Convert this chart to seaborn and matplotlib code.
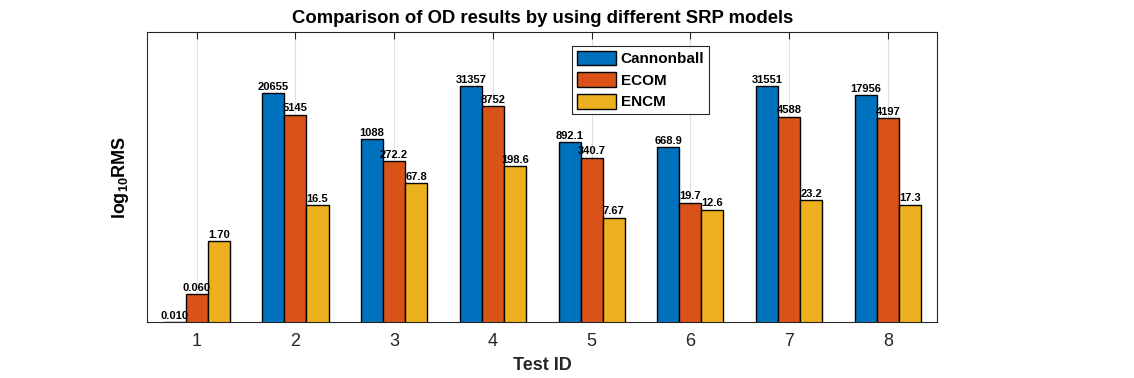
import matplotlib
matplotlib.use("Agg")
import matplotlib.pyplot as plt
from matplotlib.ticker import NullLocator
import seaborn as sns
import pandas as pd

# ---- data ----
test_ids = ["1", "2", "3", "4", "5", "6", "7", "8"]
models = ["Cannonball", "ECOM", "ENCM"]
cannonball = [0.010, 20655, 1088, 31357, 892.1, 668.9, 31551, 17956]
ecom = [0.060, 5145, 272.2, 8752, 340.7, 19.7, 4588, 4197]
encm = [1.70, 16.5, 67.8, 198.6, 7.67, 12.6, 23.2, 17.3]
cannonball_labels = ["0.010", "20655", "1088", "31357", "892.1", "668.9", "31551", "17956"]
ecom_labels = ["0.060", "5145", "272.2", "8752", "340.7", "19.7", "4588", "4197"]
encm_labels = ["1.70", "16.5", "67.8", "198.6", "7.67", "12.6", "23.2", "17.3"]
colors = ["#0072BD", "#D95319", "#EDB120"]

rows = []
for m, vals in zip(models, [cannonball, ecom, encm]):
    for t, v in zip(test_ids, vals):
        rows.append({"Test ID": t, "Model": m, "RMS": v})
df = pd.DataFrame(rows)

sns.set_theme(style="white")
plt.rcParams["font.family"] = ["Liberation Sans", "DejaVu Sans"]
plt.rcParams["mathtext.fontset"] = "custom"
plt.rcParams["mathtext.bf"] = "Liberation Sans:bold"
plt.rcParams["mathtext.rm"] = "Liberation Sans:bold"
plt.rcParams["mathtext.default"] = "bf"

fig = plt.figure(figsize=(11.34, 3.78), dpi=100)
ax = fig.add_axes([0.1299, 0.1474, 0.8265 - 0.1299, 0.9161 - 0.1474])
ax.set_yscale("log")

sns.barplot(data=df, x="Test ID", y="RMS", hue="Model", order=test_ids,
            hue_order=models, palette=colors, saturation=1, width=0.67,
            edgecolor="black", linewidth=1.0, errorbar=None, ax=ax)

for cont, labs in zip(ax.containers, [cannonball_labels, ecom_labels, encm_labels]):
    ax.bar_label(cont, labels=labs, padding=1, fontsize=8, fontweight="bold",
                 color="black")

ax.set_ylim(1e-2, 1e6)
ax.set_xlim(-0.5, 7.5)
ax.set_yticks([])
ax.yaxis.set_minor_locator(NullLocator())

ax.set_axisbelow(True)
ax.grid(axis="x", color="#dfdfdf", linewidth=0.8)
ax.grid(axis="y", visible=False)

ax.tick_params(axis="x", direction="in", top=True, bottom=True, length=5,
               width=0.8, color="#262626", labelsize=13, labelcolor="#262626",
               pad=8)
for s in ax.spines.values():
    s.set_visible(True)
    s.set_color("#262626")
    s.set_linewidth(0.8)

ax.set_title("Comparison of OD results by using different SRP models",
             fontsize=13.3, fontweight="bold", color="black", pad=6)
ax.set_xlabel("Test ID", fontsize=13, fontweight="bold", color="#262626", labelpad=5)
ax.set_ylabel(r"log$_{10}$RMS", fontsize=13, fontweight="bold", color="black",
              labelpad=12)

handles, labels = ax.get_legend_handles_labels()
leg = ax.legend(handles, labels, loc="upper left", bbox_to_anchor=(0.5376, 0.9508),
                borderaxespad=0, prop={"weight": "bold", "size": 11},
                frameon=True, fancybox=False, shadow=False, framealpha=1,
                edgecolor="#262626", handlelength=2.6, handleheight=1.1,
                handletextpad=0.3, labelspacing=0.4, borderpad=0.3,
                labelcolor="black")
leg.get_frame().set_linewidth(0.8)

fig.savefig("out.png", dpi=100)
